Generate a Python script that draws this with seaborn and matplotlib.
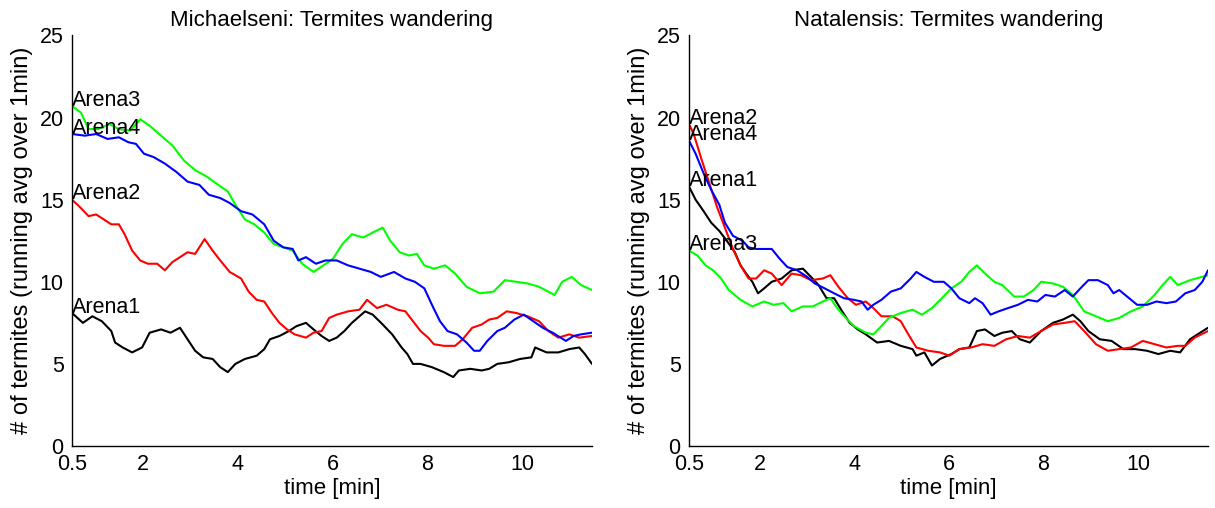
import numpy as np
import pandas as pd
import matplotlib
matplotlib.use("Agg")
import matplotlib.pyplot as plt
import seaborn as sns

# ---------------- data ----------------
# Michaelseni
m_a1_t = [0.5,0.73,0.93,1.13,1.33,1.41,1.57,1.77,1.98,2.14,2.38,2.58,2.78,2.94,3.1,3.27,3.47,3.63,3.79,3.95,4.15,4.4,4.56,4.68,4.88,5.08,5.24,5.44,5.6,5.77,5.93,6.09,6.25,6.41,6.57,6.69,6.85,7.06,7.26,7.46,7.58,7.7,7.86,8.1,8.35,8.55,8.67,8.91,9.15,9.31,9.48,9.72,9.96,10.2,10.28,10.52,10.77,11.0,11.21,11.33,11.48]
m_a1_y = [8.1,7.5,7.9,7.6,7.0,6.3,6.0,5.7,6.0,6.9,7.1,6.9,7.2,6.5,5.8,5.4,5.3,4.8,4.5,5.0,5.3,5.5,5.9,6.5,6.7,7.0,7.3,7.5,7.1,6.7,6.4,6.6,7.0,7.5,7.9,8.2,8.0,7.4,6.8,6.0,5.6,5.0,5.0,4.8,4.5,4.2,4.6,4.7,4.6,4.7,5.0,5.1,5.3,5.4,6.0,5.7,5.7,5.9,6.0,5.6,5.0]

m_a2_t = [0.5,0.65,0.85,1.01,1.17,1.33,1.49,1.61,1.77,1.94,2.1,2.3,2.46,2.62,2.78,2.94,3.1,3.3,3.47,3.63,3.83,4.07,4.23,4.4,4.56,4.72,4.88,5.04,5.2,5.44,5.6,5.77,5.93,6.09,6.33,6.57,6.73,6.94,7.14,7.38,7.54,7.7,7.86,8.02,8.14,8.35,8.59,8.75,8.95,9.15,9.31,9.48,9.68,9.88,10.12,10.36,10.56,10.77,11.0,11.21,11.48]
m_a2_y = [15.0,14.6,14.0,14.1,13.8,13.5,13.5,12.9,11.9,11.3,11.1,11.1,10.7,11.2,11.5,11.8,11.7,12.6,11.9,11.3,10.6,10.2,9.4,8.9,8.8,8.1,7.5,7.1,6.8,6.6,6.9,7.0,7.8,8.0,8.2,8.3,8.9,8.4,8.6,8.3,8.2,7.6,7.0,6.6,6.2,6.1,6.1,6.5,7.2,7.4,7.7,7.8,8.2,8.1,7.9,7.6,7.0,6.6,6.8,6.6,6.7]

m_a3_t = [0.5,0.69,0.85,1.05,1.29,1.49,1.73,1.94,2.14,2.38,2.62,2.86,3.1,3.35,3.59,3.79,3.95,4.15,4.35,4.56,4.76,4.96,5.16,5.36,5.6,5.81,6.01,6.21,6.41,6.65,6.85,7.06,7.22,7.42,7.62,7.78,7.94,8.14,8.38,8.59,8.83,9.11,9.4,9.64,9.88,10.12,10.36,10.69,10.85,11.05,11.25,11.48]
m_a3_y = [20.7,20.3,19.3,19.3,19.6,19.3,19.2,19.9,19.5,18.9,18.3,17.4,16.8,16.4,15.9,15.5,14.7,13.8,13.5,13.0,12.3,12.1,11.9,11.1,10.6,11.0,11.4,12.3,12.9,12.7,13.0,13.3,12.5,11.8,11.6,11.7,11.0,10.8,11.0,10.5,9.7,9.3,9.4,10.1,10.0,9.9,9.7,9.2,10.0,10.3,9.8,9.5]

m_a4_t = [0.5,0.77,1.01,1.25,1.49,1.69,1.85,2.02,2.22,2.46,2.7,2.94,3.19,3.39,3.63,3.83,4.07,4.31,4.56,4.76,4.96,5.16,5.28,5.44,5.65,5.85,6.09,6.33,6.57,6.81,7.02,7.3,7.54,7.74,7.94,8.1,8.27,8.43,8.63,8.83,8.99,9.11,9.27,9.48,9.64,9.84,10.04,10.24,10.44,10.65,10.93,11.09,11.25,11.48]
m_a4_y = [19.0,18.9,19.0,18.7,18.8,18.5,18.4,17.8,17.6,17.2,16.7,16.1,15.9,15.3,15.1,14.8,14.3,14.1,13.5,12.5,12.1,12.0,11.3,11.5,11.1,11.3,11.3,11.0,10.8,10.6,10.3,10.6,10.2,10.0,9.6,8.6,7.6,7.0,6.8,6.3,5.8,5.8,6.4,7.0,7.2,7.7,8.0,7.6,7.2,6.9,6.4,6.7,6.8,6.9]

# Natalensis
n_a1_t = [0.5,0.64,0.81,0.97,1.14,1.3,1.47,1.59,1.71,1.84,1.96,2.09,2.25,2.46,2.67,2.91,3.08,3.24,3.41,3.57,3.74,3.9,4.07,4.24,4.48,4.73,4.98,5.23,5.31,5.48,5.64,5.81,6.05,6.22,6.43,6.59,6.76,6.96,7.13,7.33,7.5,7.71,7.95,8.2,8.41,8.62,8.78,8.95,9.19,9.44,9.69,9.94,10.19,10.43,10.68,10.89,11.1,11.26,11.48]
n_a1_y = [15.8,15.0,14.3,13.6,13.1,12.5,11.8,11.0,10.5,10.0,9.3,9.6,10.0,10.2,10.7,10.8,10.3,9.8,9.0,9.0,8.2,7.5,7.1,6.8,6.3,6.4,6.1,5.9,5.5,5.7,4.9,5.3,5.6,5.9,6.0,7.0,7.1,6.7,6.9,7.0,6.5,6.3,7.0,7.5,7.7,8.0,7.6,7.0,6.5,6.4,5.9,5.9,5.8,5.6,5.8,5.7,6.5,6.8,7.2]

n_a2_t = [0.5,0.6,0.76,0.93,1.1,1.26,1.43,1.59,1.76,1.92,2.09,2.25,2.46,2.67,2.87,3.08,3.33,3.49,3.66,3.86,4.03,4.24,4.4,4.57,4.81,4.98,5.14,5.31,5.56,5.81,6.01,6.22,6.47,6.71,6.96,7.21,7.46,7.71,7.95,8.2,8.45,8.66,8.86,9.11,9.36,9.6,9.85,10.1,10.35,10.6,10.84,11.0,11.2,11.48]
n_a2_y = [19.6,19.0,17.5,16.0,14.5,13.3,12.0,11.0,10.2,10.2,10.7,10.5,9.8,10.5,10.4,10.1,10.2,10.4,9.7,9.0,8.6,8.8,8.4,7.9,7.9,7.6,6.8,6.0,5.8,5.7,5.5,5.9,6.0,6.2,6.1,6.5,6.7,6.6,7.0,7.4,7.5,7.6,7.0,6.2,5.8,5.9,6.0,6.4,6.2,6.0,6.1,6.1,6.6,7.0]

n_a3_t = [0.5,0.68,0.85,1.01,1.18,1.34,1.59,1.84,2.09,2.29,2.5,2.67,2.91,3.12,3.33,3.49,3.66,3.82,3.99,4.24,4.4,4.57,4.73,4.98,5.23,5.43,5.64,5.85,6.05,6.26,6.43,6.59,6.8,6.96,7.13,7.38,7.58,7.79,7.95,8.2,8.41,8.62,8.86,9.11,9.36,9.6,9.85,10.1,10.35,10.52,10.68,10.84,11.1,11.48]
n_a3_y = [11.9,11.6,11.0,10.7,10.2,9.5,8.9,8.5,8.8,8.6,8.7,8.2,8.5,8.5,8.8,9.0,8.3,7.8,7.3,6.9,6.8,7.3,7.8,8.1,8.3,8.0,8.4,9.0,9.6,10.0,10.6,11.0,10.4,10.0,9.8,9.1,9.1,9.5,10.0,9.9,9.7,9.2,8.2,7.9,7.6,7.8,8.2,8.5,9.2,9.8,10.3,9.8,10.1,10.4]

n_a4_t = [0.5,0.64,0.81,0.97,1.14,1.26,1.43,1.63,1.76,1.92,2.09,2.25,2.42,2.58,2.79,3.0,3.16,3.37,3.57,3.78,3.99,4.15,4.28,4.4,4.57,4.77,4.98,5.19,5.31,5.48,5.68,5.89,6.05,6.22,6.43,6.55,6.71,6.88,7.05,7.25,7.46,7.67,7.87,8.04,8.24,8.45,8.62,8.78,8.95,9.15,9.36,9.48,9.6,9.77,9.98,10.19,10.39,10.6,10.8,11.0,11.2,11.36,11.48]
n_a4_y = [18.6,17.8,16.6,15.6,14.7,13.6,12.8,12.5,12.1,12.0,12.0,12.0,11.4,10.9,10.7,10.3,9.9,9.6,9.3,9.0,8.9,8.8,8.3,8.6,8.9,9.4,9.6,10.2,10.6,10.3,10.0,10.0,9.6,9.0,8.7,9.0,8.7,8.0,8.2,8.4,8.6,8.9,8.8,9.2,9.1,9.5,9.1,9.6,10.1,10.1,9.8,9.3,9.5,9.1,8.6,8.6,8.8,8.7,8.8,9.3,9.5,10.0,10.7]

arena_names = ["Arena1", "Arena2", "Arena3", "Arena4"]
arena_colors = ["#000000", "#ff0000", "#00ff00", "#0000ff"]
titles = ["Michaelseni: Termites wandering", "Natalensis: Termites wandering"]
xtick_vals = [0.5, 2, 4, 6, 8, 10]
xtick_labels = ["0.5", "2", "4", "6", "8", "10"]
ytick_vals = [0, 5, 10, 15, 20, 25]

panels = [
    [(m_a1_t, m_a1_y), (m_a2_t, m_a2_y), (m_a3_t, m_a3_y), (m_a4_t, m_a4_y)],
    [(n_a1_t, n_a1_y), (n_a2_t, n_a2_y), (n_a3_t, n_a3_y), (n_a4_t, n_a4_y)],
]

# ---------------- plotting ----------------
sns.set_style("white")
plt.rcParams['font.family'] = ['Liberation Sans', 'DejaVu Sans']
plt.rcParams['text.color'] = 'black'
plt.rcParams['axes.labelcolor'] = 'black'
plt.rcParams['xtick.color'] = 'black'
plt.rcParams['ytick.color'] = 'black'

fig = plt.figure(figsize=(12.15, 5.08), dpi=100)
ax_pos = [[72/1215, 1-446/508, 520/1215, 410.5/508],
          [689/1215, 1-446/508, 519/1215, 410.5/508]]

for p, series in enumerate(panels):
    ax = fig.add_axes(ax_pos[p])
    frames = []
    for name, (t, y) in zip(arena_names, series):
        frames.append(pd.DataFrame({"t": t, "y": y, "arena": name}))
    df = pd.concat(frames, ignore_index=True)
    sns.lineplot(data=df, x="t", y="y", hue="arena", palette=dict(zip(arena_names, arena_colors)),
                 hue_order=arena_names, estimator=None, sort=False, linewidth=1.5, legend=False, ax=ax)
    for name, (t, y) in zip(arena_names, series):
        ax.text(t[0], y[0] + 0.35, name, ha="left", va="center", fontsize=15.5, color="black")
    ax.set_xlim(0.5, 11.48)
    ax.set_ylim(0, 25)
    ax.set_xticks(xtick_vals)
    ax.set_xticklabels(xtick_labels)
    ax.set_yticks(ytick_vals)
    ax.tick_params(axis="both", direction="in", length=5, width=1, labelsize=15.5, pad=6,
                   colors="black")
    for s in ["top", "right"]:
        ax.spines[s].set_visible(False)
    for s in ["left", "bottom"]:
        ax.spines[s].set_color("black")
        ax.spines[s].set_linewidth(1.0)
    ax.set_xlabel("time [min]", fontsize=16, labelpad=2, color="black")
    ax.set_ylabel("# of termites (running avg over 1min)", fontsize=17, labelpad=5, color="black")
    ax.set_title(titles[p], fontsize=16, pad=7, color="black")

fig.savefig("out.png", dpi=100)
